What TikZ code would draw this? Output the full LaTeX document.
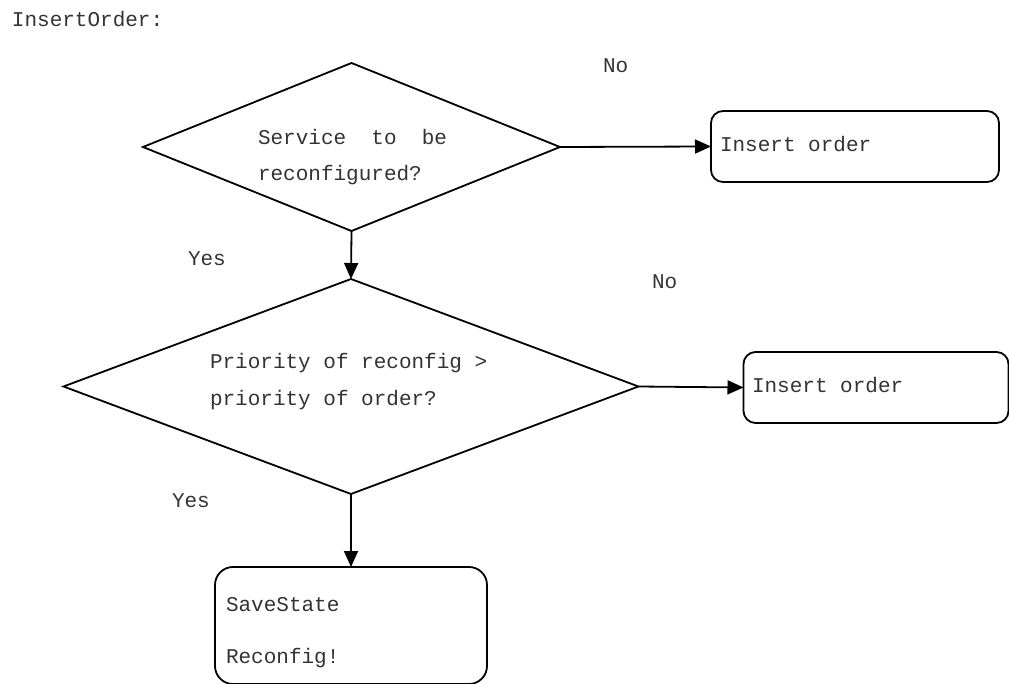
\documentclass[tikz,border=0pt]{standalone}
\usepackage{fontspec}
\newfontfamily\monofont{Liberation Mono}
\usetikzlibrary{shapes.geometric,arrows.meta}

\begin{document}
\begin{tikzpicture}[x=1pt,y=-1pt,
  every node/.style={inner sep=0pt,outer sep=0pt},
  txt/.style={anchor=base west,text=black!80,font=\monofont\fontsize{21}{25}\selectfont},
  decision/.style={draw,shape=diamond,line width=1.8pt},
  stepbox/.style={draw,rectangle,line width=1.8pt,rounded corners=12pt},
  flow/.style={line width=1.8pt,-{Triangle[length=16pt,width=14pt]}}]
\useasboundingbox (0,0) rectangle (1009,684);

% title
\node[txt] (title) at (12,27) {InsertOrder:};

% first decision
\node[decision,minimum width=417pt,minimum height=168pt] (d1) at (351.5,147) {};
\node[txt] (d1a) at (258,145) {Service\hspace{25.2pt}to\hspace{25.2pt}be};
\node[txt] (d1b) at (258,181) {reconfigured?};

% branch: no reconfiguration
\node[stepbox,minimum width=288pt,minimum height=71pt] (ins1) at (855,146.5) {};
\node[txt] (ins1t) at (720,152) {Insert order};
\node[txt] (no1) at (603,73) {No};

% second decision
\node[decision,minimum width=575pt,minimum height=215pt] (d2) at (351,386.5) {};
\node[txt] (d2a) at (210,369) {Priority of reconfig >};
\node[txt] (d2b) at (210,406) {priority of order?};
\node[txt] (yes1) at (188,266) {Yes};

% branch: lower priority
\node[stepbox,minimum width=265pt,minimum height=71pt] (ins2) at (876,387.5) {};
\node[txt] (ins2t) at (752,392) {Insert order};
\node[txt] (no2) at (652,289) {No};

% reconfiguration
\node[stepbox,rounded corners=18pt,minimum width=272pt,minimum height=117pt] (rc) at (351,625.5) {};
\node[txt] (rct1) at (226,611) {SaveState};
\node[txt] (rct2) at (226,663) {Reconfig!};
\node[txt] (yes2) at (172,507) {Yes};

% connectors
\draw[flow] (d1.east) -- (ins1.west);
\draw[flow] (d1.south) -- (d2.north);
\draw[flow] (d2.east) -- (ins2.west);
\draw[flow] (d2.south) -- (rc.north);
\end{tikzpicture}
\end{document}
